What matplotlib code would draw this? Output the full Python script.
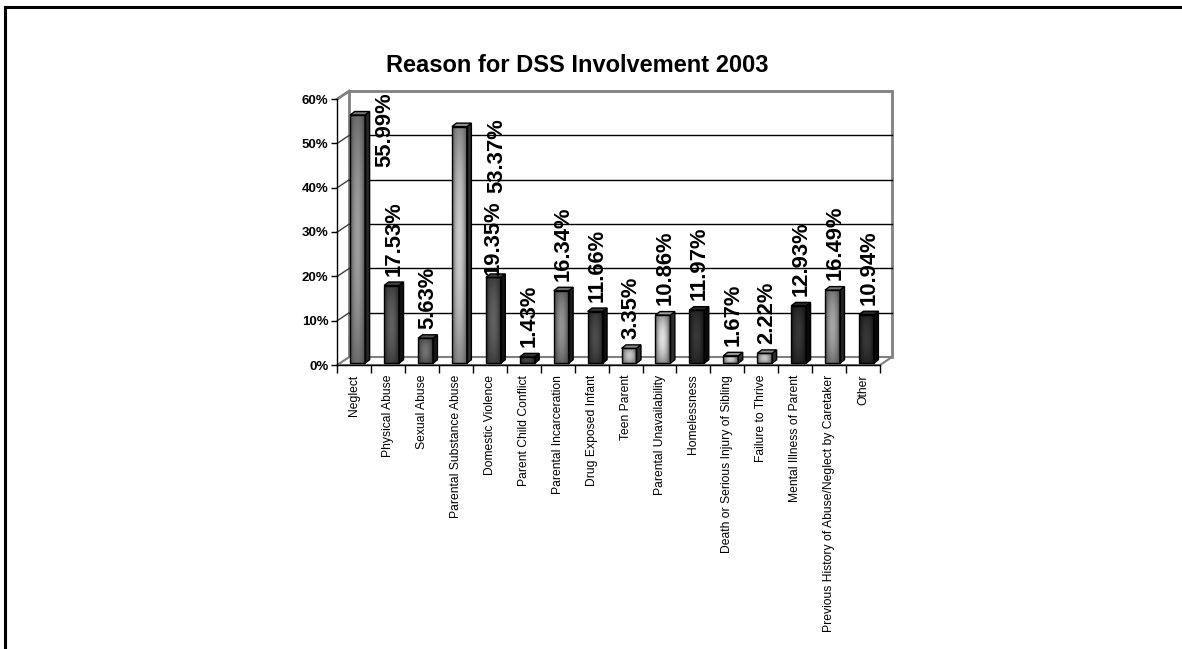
import numpy as np
import matplotlib
matplotlib.use("Agg")
import matplotlib.pyplot as plt
from matplotlib.patches import Polygon, Rectangle
from matplotlib.lines import Line2D

plt.rcParams['font.family'] = ['Liberation Sans', 'DejaVu Sans']

# data
categories = ["Neglect", "Physical Abuse", "Sexual Abuse", "Parental Substance Abuse",
              "Domestic Violence", "Parent Child Conflict", "Parental Incarceration",
              "Drug Exposed Infant", "Teen Parent", "Parental Unavailability",
              "Homelessness", "Death or Serious Injury of Sibling", "Failure to Thrive",
              "Mental Illness of Parent", "Previous History of Abuse/Neglect by Caretaker",
              "Other"]
values = [55.99, 17.53, 5.63, 53.37, 19.35, 1.43, 16.34, 11.66, 3.35, 10.86,
          11.97, 1.67, 2.22, 12.93, 16.49, 10.94]
yticks = [0, 10, 20, 30, 40, 50, 60]
title = "Reason for DSS Involvement 2003"

# bar shading (edge gray, centre gray)
shades = [(0.30, 0.62), (0.15, 0.38), (0.20, 0.45), (0.35, 0.80), (0.15, 0.38),
          (0.12, 0.28), (0.25, 0.58), (0.12, 0.30), (0.35, 0.78), (0.35, 0.88),
          (0.08, 0.22), (0.35, 0.82), (0.35, 0.78), (0.08, 0.22), (0.30, 0.65),
          (0.08, 0.22)]

W, H = 1182, 649
fig = plt.figure(figsize=(W / 100, H / 100), dpi=100)

# front plane of the plot in pixels
x0p, x1p = 337.3, 880.0
y0p, y60p = 365.0, 99.0
ax = fig.add_axes([x0p / W, 1 - y0p / H, (x1p - x0p) / W, (y0p - y60p) / H])
n = len(categories)
xlim = (-0.5, n - 0.5)
ylim = (0, 60)

upx = (xlim[1] - xlim[0]) / (x1p - x0p)   # data units per px in x
upy = 60 / (y0p - y60p)
dx, dy = 12 * upx, 8 * upy                # depth of the chart box
bdx, bdy = 4.5 * upx, 3.5 * upy           # depth of each bar

gray = '#808080'
# back wall
ax.add_patch(Rectangle((xlim[0] + dx, dy), xlim[1] - xlim[0], 60, facecolor='white',
                       edgecolor=gray, lw=2, zorder=0.5, clip_on=False))
for v in yticks[1:-1]:
    ax.add_line(Line2D([xlim[0] + dx, xlim[1] + dx], [v + dy, v + dy], color='black',
                       lw=1, zorder=1, clip_on=False))
for v in yticks:
    ax.add_line(Line2D([xlim[0], xlim[0] + dx], [v, v + dy], color='#404040',
                       lw=1, zorder=1, clip_on=False))
# left wall top edge
ax.add_line(Line2D([xlim[0], xlim[0] + dx], [60, 60 + dy], color=gray, lw=2,
                   zorder=1, clip_on=False))
# floor
ax.add_patch(Polygon([(xlim[0], 0), (xlim[1], 0), (xlim[1] + dx, dy), (xlim[0] + dx, dy)],
                     closed=True, facecolor='white', edgecolor=gray, lw=1.5,
                     zorder=1.5, clip_on=False))

# bars
u = np.linspace(-1, 1, 40)
vv = np.linspace(-1, 1, 80)
U, V = np.meshgrid(u, vv)
base = 0.4
for i, (val, (ec, cc)) in enumerate(zip(values, shades)):
    bx0, bx1 = i - 0.12, i + 0.32
    by0, by1 = base, val + base
    t = (1 - U ** 2) * (1 - 0.6 * V ** 2)
    img = ec + (cc - ec) * t
    ax.imshow(img, extent=(bx0, bx1, by0, by1), cmap='gray', vmin=0, vmax=1,
              aspect='auto', origin='lower', interpolation='bilinear', zorder=3)
    ax.add_patch(Rectangle((bx0, by0), bx1 - bx0, by1 - by0, fill=False,
                           edgecolor='black', lw=1, zorder=3.2))
    ax.add_patch(Polygon([(bx1, by0), (bx1 + bdx, by0 + bdy), (bx1 + bdx, by1 + bdy), (bx1, by1)],
                         closed=True, facecolor=str(ec * 0.5), edgecolor='black', lw=1,
                         zorder=3.1, clip_on=False))
    ax.add_patch(Polygon([(bx0, by1), (bx1, by1), (bx1 + bdx, by1 + bdy), (bx0 + bdx, by1 + bdy)],
                         closed=True, facecolor=str(min(1, (ec + cc) / 2)), edgecolor='black',
                         lw=1, zorder=3.1, clip_on=False))

# data labels (a few are shifted, as in the original, so they fit)
label_moves = {0: (0.9, 61.4, 'top'), 3: (4.2, 55.7, 'top'), 4: (4.1, 20.3, 'bottom')}
for i, val in enumerate(values):
    txt = f"{val:.2f}%"
    lx, ly, va = label_moves.get(i, (i + 0.17, val + 2.6, 'bottom'))
    ax.text(lx, ly, txt, rotation=90, ha='center', va=va, fontsize=15.8,
            fontweight='bold', zorder=5, clip_on=False)

ax.set_xlim(*xlim)
ax.set_ylim(*ylim)
ax.patch.set_visible(False)
for s in ['top', 'right']:
    ax.spines[s].set_visible(False)
for s in ['left', 'bottom']:
    ax.spines[s].set_color('black')
    ax.spines[s].set_linewidth(1)
    ax.spines[s].set_zorder(4)

ax.set_yticks(yticks)
ax.set_yticklabels([f"{v}%" for v in yticks], fontsize=9.5, fontweight='bold')
ax.tick_params(axis='y', direction='out', length=4.5, width=1, pad=2)
ax.set_xticks(range(n))
ax.set_xticklabels(categories, rotation=90, fontsize=8.7, va='top', ha='center')
ax.set_xticks(np.arange(-0.5, n, 1), minor=True)
ax.tick_params(axis='x', which='major', length=0, pad=7)
ax.tick_params(axis='x', which='minor', direction='out', length=6, width=1)

fig.text(577 / W, 1 - 66 / H, title, ha='center', va='center', fontsize=17,
         fontweight='bold')

# outer frame (left and top edges)
fig.add_artist(Line2D([5 / W, 5 / W], [0, 1 - 7 / H], transform=fig.transFigure,
                      color='black', lw=2.2))
fig.add_artist(Line2D([5 / W, 1], [1 - 7 / H, 1 - 7 / H], transform=fig.transFigure,
                      color='black', lw=2.2))

fig.savefig("out.png", dpi=100)
